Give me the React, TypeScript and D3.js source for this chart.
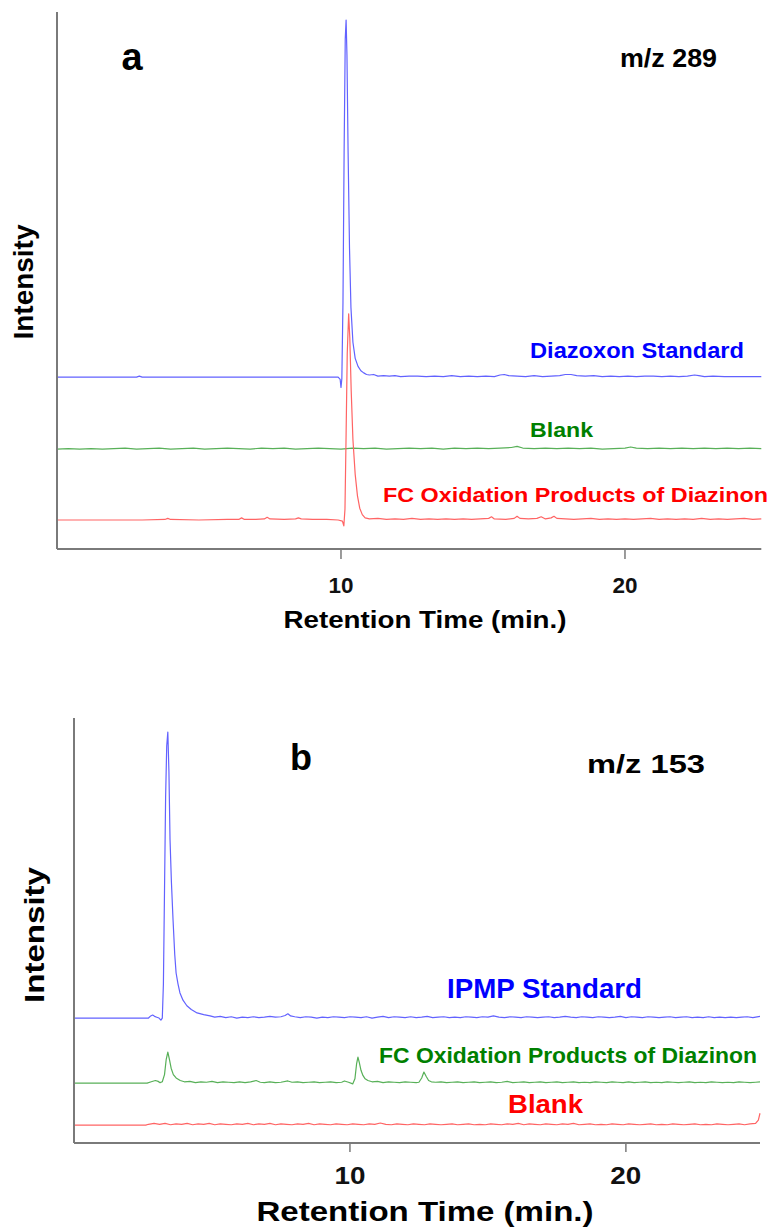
import React from "react";
import * as d3 from "d3";

type Pt = [number, number];

// ---------- Panel a (m/z 289) ----------
const blueA: Pt[] = [
  [0,0],[1.5,0],[2.8,0],[2.9,0.2],[3.0,0],[4.5,0],[6.0,0],[7.5,0],[9.0,0],[9.9,0],[9.97,-0.4],[10.0,-1.9],[10.03,-0.3],
  [10.07,14],[10.11,42],[10.15,63],[10.18,66.5],[10.21,60],[10.25,42],[10.3,24],[10.35,13],[10.42,6.5],[10.5,3.5],[10.6,2],
  [10.7,1.2],[10.8,0.8],[10.9,0.5],[11.0,0.4],[11.15,0.5],[11.3,0.2],[11.5,0.3],[11.7,0.2],[11.9,0.3],[12.1,0.1],[12.4,0.2],
  [12.7,0.2],[13.0,0.1],[13.3,0.2],[13.6,0.1],[13.9,0.3],[14.2,0.1],[14.5,0.2],[14.8,0.1],[15.1,0.2],[15.4,0.1],[15.6,0.4],
  [15.75,0.5],[15.9,0.3],[16.2,0.2],[16.5,0.1],[16.8,0.3],[17.1,0.1],[17.4,0.2],[17.7,0.3],[17.9,0.5],[18.1,0.5],[18.3,0.3],
  [18.6,0.2],[18.9,0.3],[19.2,0.1],[19.5,0.2],[19.8,0.1],[20.1,0.2],[20.4,0.1],[20.7,0.2],[21.0,0.2],[21.3,0.1],[21.6,0.2],
  [21.9,0.1],[22.2,0.2],[22.45,0.4],[22.6,0.3],[22.8,0.1],[23.1,0.2],[23.5,0.1],[23.9,0.1],[24.3,0.1],[24.8,0.1]
];
const greenA: Pt[] = [
  [0,0],[0.4,0.1],[0.8,0],[1.2,0.1],[1.6,0],[2.0,0.1],[2.4,0.2],[2.8,0],[3.2,0.1],[3.6,0.2],[4.0,0],[4.4,0.1],[4.8,0.2],
  [5.2,0],[5.6,0.1],[6.0,0.2],[6.4,0.1],[6.8,0],[7.2,0.2],[7.6,0.1],[8.0,0.2],[8.4,0],[8.8,0.1],[9.2,0.2],[9.6,0.1],[10.0,0],
  [10.4,0.2],[10.8,0.1],[11.2,0.2],[11.6,0],[12.0,0.1],[12.4,0.2],[12.8,0.1],[13.2,0.2],[13.6,0],[14.0,0.2],[14.4,0.1],
  [14.8,0.2],[15.2,0.1],[15.6,0.2],[16.0,0.3],[16.2,0.5],[16.4,0.2],[16.8,0.1],[17.2,0.2],[17.6,0.1],[18.0,0.2],[18.4,0.1],
  [18.8,0.2],[19.2,0],[19.6,0.1],[20.0,0.2],[20.2,0.4],[20.4,0.2],[20.8,0.1],[21.2,0.2],[21.6,0.1],[22.0,0.2],[22.4,0.1],
  [22.8,0.2],[23.2,0.1],[23.6,0.2],[24.0,0.1],[24.4,0.2],[24.8,0.1]
];
const redA: Pt[] = [
  [0,0],[1.0,0],[2.0,0],[3.0,0],[3.8,0.1],[3.9,0.3],[4.0,0.1],[5.0,0],[6.0,0.1],[6.4,0.1],[6.5,0.4],[6.6,0.1],[7.0,0.1],
  [7.3,0.2],[7.4,0.5],[7.5,0.2],[8.0,0.1],[8.4,0.2],[8.5,0.4],[8.6,0.2],[9.0,0.1],[9.5,0.1],[9.9,0],[10.05,-0.2],[10.1,-1.1],
  [10.14,2],[10.18,16],[10.22,31],[10.27,38.4],[10.31,34],[10.36,24],[10.42,15],[10.5,8.5],[10.58,4.5],[10.66,2.2],[10.75,1],
  [10.85,0.4],[11.0,0.2],[11.3,0.3],[11.6,0.1],[11.9,0.2],[12.2,0.1],[12.5,0.3],[12.8,0.1],[13.1,0.2],[13.4,0.1],[13.7,0.2],
  [14.0,0.1],[14.3,0.2],[14.6,0.1],[14.9,0.2],[15.2,0.3],[15.3,0.6],[15.4,0.2],[15.8,0.1],[16.1,0.3],[16.2,0.7],[16.3,0.3],
  [16.6,0.2],[16.9,0.3],[17.05,0.6],[17.2,0.2],[17.4,0.4],[17.5,0.7],[17.6,0.3],[17.9,0.2],[18.2,0.1],[18.5,0.2],[18.8,0.3],
  [19.1,0.1],[19.4,0.2],[19.7,0.1],[20.0,0.2],[20.3,0.1],[20.6,0.2],[20.9,0.3],[21.2,0.1],[21.5,0.2],[21.8,0.1],[22.1,0.2],
  [22.4,0.1],[22.7,0.3],[23.0,0.1],[23.3,0.2],[23.6,0.1],[23.9,0.2],[24.2,0.3],[24.5,0.1],[24.8,0.2]
];
const baselinesA = [32.0, 18.6, 5.4];
const labelsA = ["Diazoxon Standard", "Blank", "FC Oxidation Products of Diazinon"];

// ---------- Panel b (m/z 153) ----------
const blueB: Pt[] = [
  [0,0],[1.0,0],[2.0,0],[2.7,0],[2.78,0.5],[2.85,0.7],[2.92,0.4],[3.0,0.2],[3.08,0],[3.15,-0.5],[3.2,0],[3.24,8],[3.28,30],
  [3.32,52],[3.36,64],[3.4,67.3],[3.44,58],[3.48,42],[3.53,32],[3.59,23],[3.65,15],[3.7,10.6],[3.77,8],[3.84,5.9],[3.95,4.2],
  [4.09,2.9],[4.25,2],[4.46,1.2],[4.7,0.8],[4.93,0.5],[5.1,0.2],[5.3,0.4],[5.5,0.1],[5.7,0.3],[5.9,0],[6.1,0.2],[6.3,0.1],
  [6.5,0.3],[6.7,0.1],[6.9,0.2],[7.1,0.4],[7.3,0.2],[7.5,0.3],[7.65,0.6],[7.75,1],[7.85,0.5],[8.0,0.3],[8.2,0.1],[8.4,0.3],
  [8.6,0.2],[8.8,0],[9.0,0.2],[9.2,0.1],[9.4,0.3],[9.6,0.2],[9.8,0.1],[10.0,0.3],[10.2,0.2],[10.4,0.1],[10.6,0.3],[10.8,0],
  [11.0,0.2],[11.2,0.4],[11.4,0.1],[11.6,0.3],[11.8,0.2],[12.0,0.1],[12.2,0.3],[12.4,0.1],[12.6,0.2],[12.8,0.4],[13.0,0.1],
  [13.2,0.2],[13.4,0.3],[13.6,0.1],[13.8,0.2],[14.0,0.1],[14.2,0.3],[14.4,0.2],[14.6,0.1],[14.8,0.3],[15.0,0.2],[15.2,0.5],
  [15.4,0.2],[15.6,0.1],[15.8,0.3],[16.0,0.2],[16.2,0.1],[16.4,0.3],[16.6,0.2],[16.8,0.1],[17.0,0.2],[17.2,0.3],[17.4,0.1],
  [17.6,0.2],[17.8,0.4],[18.0,0.2],[18.2,0.1],[18.4,0.3],[18.6,0.2],[18.8,0.1],[19.0,0.3],[19.2,0.2],[19.4,0.1],[19.6,0.2],
  [19.8,0.4],[20.0,0.1],[20.2,0.3],[20.4,0.2],[20.6,0.1],[20.8,0.3],[21.0,0.2],[21.2,0.1],[21.4,0.2],[21.6,0.3],[21.8,0.1],
  [22.0,0.2],[22.2,0.3],[22.4,0.1],[22.6,0.2],[22.8,0.1],[23.0,0.3],[23.2,0.1],[23.4,0.2],[23.6,0.1],[23.8,0.2],[24.0,0.1],
  [24.2,0.2],[24.4,0.3],[24.6,0.1],[24.86,0.4]
];
const greenB: Pt[] = [
  [0,0],[1.0,0],[2.0,0],[2.65,0],[2.8,0.3],[2.95,0.6],[3.05,0.4],[3.12,0.1],[3.2,0.3],[3.28,2],[3.34,5.5],[3.4,7.3],[3.46,5.5],
  [3.52,3.5],[3.6,2],[3.7,1.2],[3.85,0.6],[4.0,0.3],[4.2,0.4],[4.4,0.1],[4.6,0.3],[4.8,0.2],[5.0,0.4],[5.2,0.1],[5.4,0.3],
  [5.6,0.2],[5.8,0.1],[6.0,0.3],[6.2,0.1],[6.4,0.3],[6.6,0.6],[6.75,0.2],[6.9,0.1],[7.1,0.3],[7.3,0.1],[7.5,0.2],[7.75,0.5],
  [7.9,0.2],[8.1,0.3],[8.3,0.1],[8.5,0.2],[8.7,0.3],[8.9,0.1],[9.1,0.2],[9.3,0.3],[9.5,0.1],[9.7,0.2],[9.8,0.5],[9.95,0.2],
  [10.1,-0.2],[10.18,1],[10.24,4.5],[10.29,6.1],[10.34,4.8],[10.4,3],[10.47,1.8],[10.55,1],[10.65,0.6],[10.8,0.3],[11.0,0.4],
  [11.2,0.1],[11.4,0.3],[11.6,0.2],[11.8,0.1],[12.0,0.3],[12.2,0.2],[12.4,0.1],[12.5,0.2],[12.6,1.2],[12.68,2.6],[12.76,1.6],
  [12.85,0.6],[12.95,0.3],[13.1,0.2],[13.3,0.3],[13.5,0.1],[13.7,0.2],[13.9,0.3],[14.1,0.1],[14.3,0.2],[14.5,0.3],[14.7,0.1],
  [14.9,0.2],[15.1,0.3],[15.3,0.1],[15.5,0.2],[15.7,0.4],[15.9,0.1],[16.1,0.2],[16.3,0.3],[16.5,0.1],[16.7,0.2],[16.9,0.3],
  [17.1,0.1],[17.3,0.2],[17.5,0.3],[17.7,0.1],[17.9,0.2],[18.1,0.3],[18.3,0.1],[18.5,0.2],[18.7,0.1],[18.9,0.3],[19.1,0.2],
  [19.3,0.1],[19.5,0.3],[19.7,0.2],[19.9,0.1],[20.1,0.3],[20.3,0.1],[20.5,0.2],[20.7,0.3],[20.9,0.1],[21.1,0.2],[21.3,0.1],
  [21.5,0.3],[21.7,0.2],[21.9,0.1],[22.1,0.2],[22.3,0.3],[22.5,0.1],[22.7,0.2],[22.9,0.1],[23.1,0.3],[23.3,0.2],[23.5,0.1],
  [23.7,0.2],[23.9,0.1],[24.1,0.3],[24.3,0.2],[24.5,0.1],[24.7,0.2],[24.86,0.3]
];
const redB: Pt[] = [
  [0,0],[1.0,0],[2.0,0],[2.6,0],[2.7,0.2],[2.9,0.4],[3.1,0.2],[3.3,0.4],[3.5,0.1],[3.7,0.3],[3.9,0.2],[4.1,0.4],[4.3,0.1],
  [4.5,0.3],[4.7,0.2],[4.9,0.4],[5.1,0.1],[5.3,0.3],[5.5,0.2],[5.7,0.1],[5.9,0.3],[6.1,0.2],[6.3,0.4],[6.5,0.1],[6.7,0.3],
  [6.9,0.2],[7.1,0.4],[7.3,0.1],[7.5,0.3],[7.7,0.2],[7.9,0.1],[8.1,0.3],[8.3,0.2],[8.5,0.4],[8.7,0.1],[8.9,0.3],[9.1,0.2],
  [9.3,0.1],[9.5,0.3],[9.7,0.2],[9.9,0.1],[10.1,0.3],[10.3,0.2],[10.5,0.1],[10.7,0.3],[10.9,0.2],[11.1,0.5],[11.3,0.2],
  [11.5,0.1],[11.7,0.3],[11.9,0.2],[12.1,0.1],[12.3,0.3],[12.5,0.2],[12.7,0.1],[12.9,0.3],[13.1,0.2],[13.3,0.1],[13.5,0.2],
  [13.7,0.3],[13.9,0.1],[14.1,0.2],[14.3,0.3],[14.5,0.1],[14.7,0.2],[14.9,0.1],[15.1,0.3],[15.3,0.2],[15.5,0.1],[15.7,0.3],
  [15.9,0.2],[16.1,0.4],[16.3,0.1],[16.5,0.3],[16.7,0.2],[16.9,0.1],[17.1,0.3],[17.3,0.2],[17.5,0.1],[17.7,0.3],[17.9,0.2],
  [18.1,0.4],[18.3,0.1],[18.5,0.2],[18.7,0.3],[18.9,0.1],[19.1,0.2],[19.3,0.1],[19.5,0.3],[19.7,0.2],[19.9,0.1],[20.1,0.3],
  [20.3,0.2],[20.5,0.1],[20.7,0.2],[20.9,0.3],[21.1,0.1],[21.3,0.2],[21.5,0.1],[21.7,0.3],[21.9,0.2],[22.1,0.1],[22.3,0.2],
  [22.5,0.3],[22.7,0.1],[22.9,0.2],[23.1,0.1],[23.3,0.3],[23.5,0.2],[23.7,0.1],[23.9,0.2],[24.1,0.3],[24.3,0.1],[24.5,0.3],
  [24.7,0.4],[24.8,1.2],[24.86,2.8]
];
const baselinesB = [29.4, 14.1, 4.2];
const labelsB = ["IPMP Standard", "FC Oxidation Products of Diazinon", "Blank"];

const xTicks = [10, 20];
const xTitle = "Retention Time (min.)";
const yTitle = "Intensity";

const FONT = "'Liberation Sans', Arial, Helvetica, sans-serif";
const LINE_BLUE = "#6262ff";
const LINE_GREEN = "#58b058";
const LINE_RED = "#ff6464";
const AXIS = "#7a7a7a";

type TextSpec = { text: string; x: number; y: number; size: number; len?: number; color: string; anchor?: string };

function Label({ s }: { s: TextSpec }) {
  return (
    <text
      x={s.x}
      y={s.y}
      fontFamily={FONT}
      fontWeight="bold"
      fontSize={s.size}
      fill={s.color}
      textAnchor={s.anchor || "start"}
      textLength={s.len}
      lengthAdjust={s.len ? "spacingAndGlyphs" : undefined}
    >
      {s.text}
    </text>
  );
}

function Panel(props: {
  series: Pt[][];
  baselines: number[];
  colors: string[];
  xDom: [number, number];
  xRange: [number, number];
  yRange: [number, number];
  tickLen: number;
  tickSize: number;
  tickBaseline: number;
  tickLen2: number;
}) {
  const x = d3.scaleLinear().domain(props.xDom).range(props.xRange);
  const y = d3.scaleLinear().domain([0, 100]).range(props.yRange);
  const [x0, x1] = props.xRange;
  const [yb, yt] = props.yRange;
  return (
    <g>
      {props.series.map((s, i) => {
        const line = d3
          .line<Pt>()
          .x((d) => x(d[0]))
          .y((d) => y(d[1] + props.baselines[i]));
        return <path key={i} d={line(s) || ""} fill="none" stroke={props.colors[i]} strokeWidth={1.2} strokeLinejoin="round" />;
      })}
      <line x1={x0} x2={x0} y1={yt} y2={yb} stroke={AXIS} strokeWidth={2} />
      <line x1={x0} x2={x1} y1={yb} y2={yb} stroke={AXIS} strokeWidth={2} />
      {xTicks.map((t) => (
        <g key={t}>
          <line x1={x(t)} x2={x(t)} y1={yb} y2={yb + props.tickLen} stroke={AXIS} strokeWidth={1.5} />
          <text
            x={x(t)}
            y={props.tickBaseline}
            textAnchor="middle"
            fontFamily={FONT}
            fontWeight="bold"
            fontSize={props.tickSize}
            fill="#111"
            textLength={props.tickLen2}
            lengthAdjust="spacingAndGlyphs"
          >
            {t}
          </text>
        </g>
      ))}
    </g>
  );
}

export default function App() {
  const textsA: TextSpec[] = [
    { text: "a", x: 132, y: 70, size: 38, color: "#000", anchor: "middle" },
    { text: "m/z 289", x: 620, y: 67, size: 26, len: 97, color: "#000" },
    { text: labelsA[0], x: 530, y: 358, size: 22, len: 214, color: "#0000ff" },
    { text: labelsA[1], x: 530, y: 437, size: 21, len: 63, color: "#008000" },
    { text: labelsA[2], x: 383, y: 502, size: 21, len: 385, color: "#ff0000" },
    { text: xTitle, x: 425, y: 628, size: 24, len: 283, color: "#000", anchor: "middle" },
  ];
  const textsB: TextSpec[] = [
    { text: "b", x: 301, y: 770, size: 36, color: "#000", anchor: "middle" },
    { text: "m/z 153", x: 587, y: 773, size: 25, len: 118, color: "#000" },
    { text: labelsB[0], x: 447, y: 998, size: 28, len: 195, color: "#0000ff" },
    { text: labelsB[1], x: 379, y: 1063, size: 22, len: 378, color: "#008000" },
    { text: labelsB[2], x: 508, y: 1113, size: 25, len: 75, color: "#ff0000" },
    { text: xTitle, x: 425, y: 1221, size: 28, len: 337, color: "#000", anchor: "middle" },
  ];
  return (
    <svg
      width={773}
      height={1231}
      style={{ position: "absolute", left: 0, top: 0, background: "#fff" }}
    >
      <rect x={0} y={0} width={773} height={1231} fill="#fff" />
      <Panel
        series={[blueA, greenA, redA]}
        baselines={baselinesA}
        colors={[LINE_BLUE, LINE_GREEN, LINE_RED]}
        xDom={[0, 24.8]}
        xRange={[57, 761.3]}
        yRange={[549, 12]}
        tickLen={10}
        tickSize={22}
        tickBaseline={593}
        tickLen2={25}
      />
      <Panel
        series={[blueB, greenB, redB]}
        baselines={baselinesB}
        colors={[LINE_BLUE, LINE_GREEN, LINE_RED]}
        xDom={[0, 24.86]}
        xRange={[74, 760]}
        yRange={[1143, 718]}
        tickLen={9}
        tickSize={23}
        tickBaseline={1184}
        tickLen2={31}
      />
      {[...textsA, ...textsB].map((s, i) => (
        <Label key={i} s={s} />
      ))}
      <text
        transform="translate(33,282) rotate(-90)"
        textAnchor="middle"
        fontFamily={FONT}
        fontWeight="bold"
        fontSize={27}
        textLength={115}
        lengthAdjust="spacingAndGlyphs"
        fill="#000"
      >
        {yTitle}
      </text>
      <text
        transform="translate(44,935) rotate(-90)"
        textAnchor="middle"
        fontFamily={FONT}
        fontWeight="bold"
        fontSize={27}
        textLength={136}
        lengthAdjust="spacingAndGlyphs"
        fill="#000"
      >
        {yTitle}
      </text>
    </svg>
  );
}
